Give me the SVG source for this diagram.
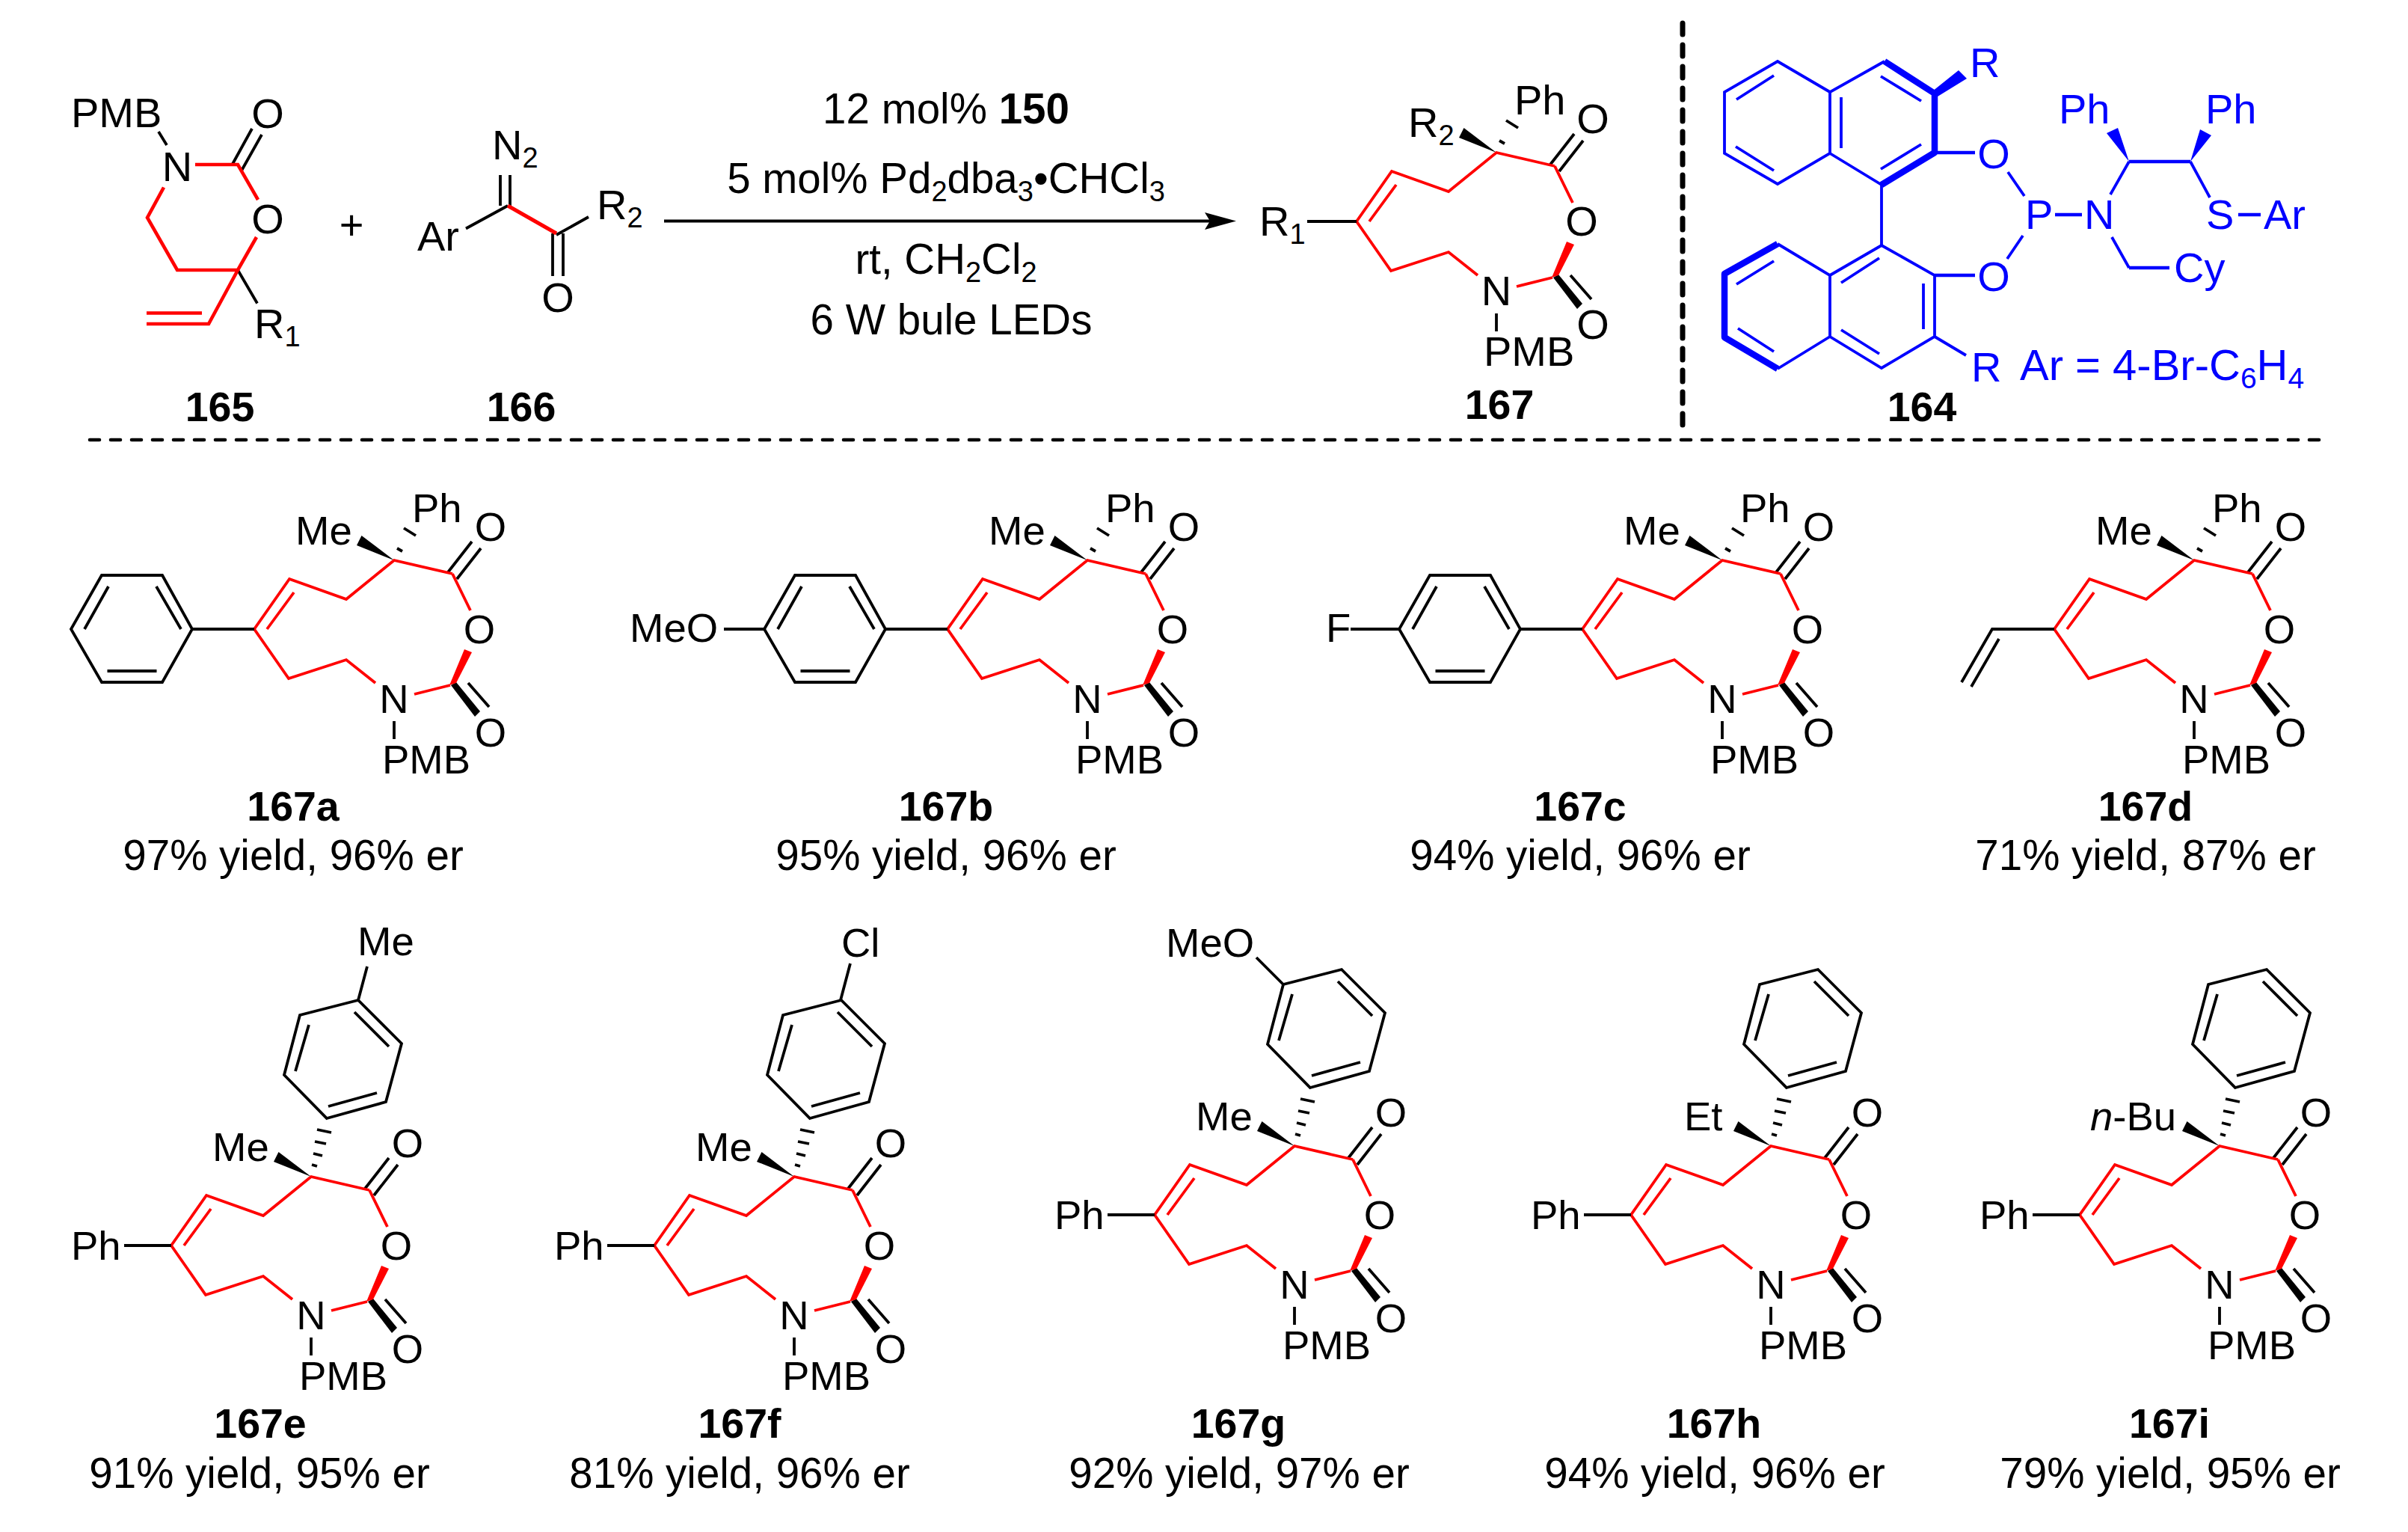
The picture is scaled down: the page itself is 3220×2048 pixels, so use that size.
<svg xmlns="http://www.w3.org/2000/svg" width="3220" height="2048" viewBox="0 0 3220 2048">
<style>
text{font-family:"Liberation Sans",Arial,sans-serif;font-size:54.5px;fill:#000}
.m{text-anchor:middle}
.c{font-size:56.5px}
.lab{font-weight:bold;font-size:55.5px;text-anchor:middle}
.y{font-size:56.5px;text-anchor:middle}
.sub{font-size:38px}
.t{font-size:56px}
.b text{fill:#0000ff;font-size:56px}
.b .sub{font-size:39px}
.k{fill:none;stroke:#000;stroke-width:3.8;stroke-linejoin:miter}
.r{fill:none;stroke:#ff0000;stroke-width:3.8;stroke-linejoin:miter}
.u{fill:none;stroke:#0000ff;stroke-width:3.8;stroke-linejoin:miter}
.ut{fill:none;stroke:#0000ff;stroke-width:8.500;stroke-linejoin:round}
.um{fill:none;stroke:#0000ff;stroke-width:4.600}
.fk{fill:#000}.fr{fill:#ff0000}.fu{fill:#0000ff}
</style>
<defs>
<g id="core">
<path class="k" d="M104-25L72 16M116-16L84 25M99 164L127 196M0 215V239"/>
<path class="fk" d="M0 0L-43.500-33L-50-20Z"/>
<path class="fk" d="M76 167L83 163L115 202L108 209Z"/>
<path class="fr" d="M74 167L83 164L104 123L94 119Z"/>
<path class="r" d="M78 18L0 0L-64 52L-140 25L-187 92L-141 158L-64 133L-25 164M-170 92L-134 43M78 18L102 67M27 179L75 167"/>
</g>
<g id="hash2"><path class="k" d="M13-43L29-33M4-16L11-12"/></g>
<g id="flatPh"><path class="k" d="M-270 92L-187 92M-391 20H-310L-270 92L-310 163H-391L-432 92ZM-382 35L-414 92M-318 35L-285 92M-383.500 148H-317.500"/></g>
<g id="aryl">
<path class="k" d="M21-78L100-100L121-178L63-236L-15-216L-36-136ZM-3-203L-21-141M58-220L104-174M23-94L88-112"/>
<path class="k" d="M8-63L27-59M5-47L20-44M3-31L15-28M1-16L8-14"/>
</g>
</defs>
<g id="connectors">
<path d="M888 295.500H1620" fill="none" stroke="#000" stroke-width="4"/>
<path class="fk" d="M1653 295.500L1611 284L1618 295.500L1611 307Z"/>
<path d="M2250 31V568" fill="none" stroke="#000" stroke-width="7" stroke-linecap="round" stroke-dasharray="15 14"/>
<path d="M120 588H3105" fill="none" stroke="#000" stroke-width="4.600" stroke-linecap="round" stroke-dasharray="13 15"/>
</g>
<g id="conditions">
<text class="c m" x="1265" y="165">12 mol% <tspan font-weight="bold">150</tspan></text>
<text class="c m" x="1265" y="258">5 mol% Pd<tspan class="sub" dy="11">2</tspan><tspan dy="-11">dba</tspan><tspan class="sub" dy="11">3</tspan><tspan dy="-11">•CHCl</tspan><tspan class="sub" dy="11">3</tspan></text>
<text class="c m" x="1265" y="366">rt, CH<tspan class="sub" dy="11">2</tspan><tspan dy="-11">Cl</tspan><tspan class="sub" dy="11">2</tspan></text>
<text class="c m" x="1272" y="447">6 W bule LEDs</text>
</g>
<g id="compound-165">
<path class="k" d="M212 176L223 194M310 221L337 172M323 228L350 180M318 361L344 405.500"/>
<path class="r" d="M261 220H318L345 267M219 250.500L197 291L237 361H318L343 317M318 361L279 433H196M270 418.500H196" style="stroke-width:4.600"/>
<text class="t" x="95" y="170">PMB</text><text class="t m" x="237" y="242">N</text><text class="t m" x="358" y="171">O</text><text class="t m" x="358" y="312">O</text>
<text class="t" x="340" y="452">R<tspan class="sub" dy="11">1</tspan></text>
<text class="lab" x="294" y="563">165</text>
</g>
<text id="plus" class="t m" x="470" y="320">+</text>
<g id="compound-166">
<path class="k" d="M669 234V275M682 234V275M623 305.500L679 275M744 314L787 290M739 312V369M753 312V369"/>
<path class="r" d="M679 275L744 312" style="stroke-width:5"/>
<text class="t" x="558" y="335">Ar</text><text class="t" x="658" y="213">N<tspan class="sub" dy="11">2</tspan></text>
<text class="t" x="798" y="293">R<tspan class="sub" dy="11">2</tspan></text><text class="t m" x="746" y="417">O</text>
<text class="lab" x="697" y="563">166</text>
</g>
<g id="compound-167" transform="translate(2001,204)">
<use href="#core"/><use href="#hash2"/>
<path class="k" d="M-187 92H-253"/>
<text class="t" x="-317" y="111">R<tspan class="sub" dy="11">1</tspan></text>
<text class="t" x="-118" y="-21">R<tspan class="sub" dy="11">2</tspan></text>
<text class="t" x="24" y="-51">Ph</text>
<text class="t m" x="129" y="-26">O</text><text class="t m" x="114" y="111">O</text><text class="t m" x="129" y="249">O</text><text class="t m" x="0" y="204">N</text><text class="t" x="-17" y="285">PMB</text>
<text class="lab" x="4" y="356">167</text>
</g>
<g id="compound-164" class="b">
<path class="u" d="M2447 123L2377 82L2306 123V205L2377 246L2447 205V123L2520 82M2447 205L2516 247V328M2322 133L2372 101M2321 196L2372 228M2462 130V198M2515 226L2569 193M2515 102L2569 135"/>
<path class="ut" d="M2520 82L2587 125V204L2516 247"/>
<path class="fu" d="M2584 122L2619 94L2630 105L2591 129Z"/>
<path class="u" d="M2447 368L2516 328L2587 368V450L2516 492L2447 450V368L2377 326M2447 450L2377 493M2324 439L2372 470M2322 380L2372 349M2462 378L2513 345M2462 441L2513 473M2572 379V440M2587 450L2629 475"/>
<path class="ut" d="M2377 326L2306 366V451L2377 493"/>
<path class="um" d="M2587 204H2641M2587 368H2641M2748 287H2784M2847 216H2929M2993 287H3023M2847 358H2901"/>
<path class="u" d="M2685 230L2707 262M2705 315L2684 346M2822 260L2847 216M2929 216L2955 264M2824 317L2847 358"/>
<path class="fu" d="M2847 216L2817 178L2832 171ZM2929 216L2942 173L2957 181Z"/>
<text x="2634" y="103">R</text><text class="m" x="2666" y="225">O</text><text class="m" x="2666" y="389">O</text>
<text x="2708" y="306">P</text><text x="2787" y="306">N</text><text x="2950" y="306">S</text><text x="3027" y="306">Ar</text>
<text x="2753" y="165">Ph</text><text x="2949" y="165">Ph</text><text x="2907" y="377">Cy</text>
<text x="2636" y="510">R</text>
<text x="2701" y="508" style="font-size:58px">Ar = 4-Br-C<tspan class="sub" dy="11">6</tspan><tspan dy="-11">H</tspan><tspan class="sub" dy="11">4</tspan></text>
<text class="lab" style="fill:#000;font-size:55.500px" x="2570" y="563">164</text>
</g>

<g id="compound-167a" transform="translate(527,749)">
<use href="#core"/><use href="#hash2"/><use href="#flatPh"/>
<text x="-132" y="-21">Me</text><text x="24" y="-51">Ph</text>
<text class="m" x="129" y="-26">O</text><text class="m" x="114" y="111">O</text><text class="m" x="129" y="249">O</text><text class="m" x="0" y="204">N</text><text x="-16" y="285">PMB</text>
<text class="lab" x="-135" y="348">167a</text><text class="y" x="-135" y="414">97% yield, 96% er</text>
</g>
<g id="compound-167b" transform="translate(1454,749)">
<use href="#core"/><use href="#hash2"/><use href="#flatPh"/>
<path class="k" d="M-432 92H-486"/>
<text x="-612" y="109">MeO</text>
<text x="-132" y="-21">Me</text><text x="24" y="-51">Ph</text>
<text class="m" x="129" y="-26">O</text><text class="m" x="114" y="111">O</text><text class="m" x="129" y="249">O</text><text class="m" x="0" y="204">N</text><text x="-16" y="285">PMB</text>
<text class="lab" x="-189" y="348">167b</text><text class="y" x="-189" y="414">95% yield, 96% er</text>
</g>
<g id="compound-167c" transform="translate(2303,749)">
<use href="#core"/><use href="#hash2"/><use href="#flatPh"/>
<path class="k" d="M-432 92H-497"/>
<text x="-530" y="109">F</text>
<text x="-132" y="-21">Me</text><text x="24" y="-51">Ph</text>
<text class="m" x="129" y="-26">O</text><text class="m" x="114" y="111">O</text><text class="m" x="129" y="249">O</text><text class="m" x="0" y="204">N</text><text x="-16" y="285">PMB</text>
<text class="lab" x="-190" y="348">167c</text><text class="y" x="-190" y="414">94% yield, 96% er</text>
</g>
<g id="compound-167d" transform="translate(2934,749)">
<use href="#core"/><use href="#hash2"/>
<path class="k" d="M-187 92H-270L-311 163M-261 105L-298 169"/>
<text x="-132" y="-21">Me</text><text x="24" y="-51">Ph</text>
<text class="m" x="129" y="-26">O</text><text class="m" x="114" y="111">O</text><text class="m" x="129" y="249">O</text><text class="m" x="0" y="204">N</text><text x="-16" y="285">PMB</text>
<text class="lab" x="-65" y="348">167d</text><text class="y" x="-65" y="414">71% yield, 87% er</text>
</g>
<g id="compound-167e" transform="translate(416,1573)">
<use href="#core"/><use href="#aryl"/>
<path class="k" d="M63-236L75-281M-187 92H-250"/>
<text x="62" y="-296">Me</text><text x="-321" y="111">Ph</text><text x="-132" y="-21">Me</text>
<text class="m" x="129" y="-26">O</text><text class="m" x="114" y="111">O</text><text class="m" x="129" y="249">O</text><text class="m" x="0" y="204">N</text><text x="-16" y="285">PMB</text>
<text class="lab" x="-68" y="349">167e</text><text class="y" x="-69" y="416">91% yield, 95% er</text>
</g>
<g id="compound-167f" transform="translate(1062,1573)">
<use href="#core"/><use href="#aryl"/>
<path class="k" d="M62-236L75-285M-187 92H-250"/>
<text x="63" y="-294">Cl</text><text x="-321" y="111">Ph</text><text x="-132" y="-21">Me</text>
<text class="m" x="129" y="-26">O</text><text class="m" x="114" y="111">O</text><text class="m" x="129" y="249">O</text><text class="m" x="0" y="204">N</text><text x="-16" y="285">PMB</text>
<text class="lab" x="-73" y="349">167f</text><text class="y" x="-73" y="416">81% yield, 96% er</text>
</g>
<g id="compound-167g" transform="translate(1731,1532)">
<use href="#core"/><use href="#aryl"/>
<path class="k" d="M-15-216L-51-252M-187 92H-250"/>
<text x="-172" y="-253">MeO</text><text x="-321" y="111">Ph</text><text x="-132" y="-21">Me</text>
<text class="m" x="129" y="-26">O</text><text class="m" x="114" y="111">O</text><text class="m" x="129" y="249">O</text><text class="m" x="0" y="204">N</text><text x="-16" y="285">PMB</text>
<text class="lab" x="-75" y="390">167g</text><text class="y" x="-74" y="457">92% yield, 97% er</text>
</g>
<g id="compound-167h" transform="translate(2368,1532)">
<use href="#core"/><use href="#aryl"/>
<path class="k" d="M-187 92H-250"/>
<text x="-321" y="111">Ph</text><text x="-116" y="-21">Et</text>
<text class="m" x="129" y="-26">O</text><text class="m" x="114" y="111">O</text><text class="m" x="129" y="249">O</text><text class="m" x="0" y="204">N</text><text x="-16" y="285">PMB</text>
<text class="lab" x="-76" y="390">167h</text><text class="y" x="-75" y="457">94% yield, 96% er</text>
</g>
<g id="compound-167i" transform="translate(2968,1532)">
<use href="#core"/><use href="#aryl"/>
<path class="k" d="M-187 92H-250"/>
<text x="-321" y="111">Ph</text><text x="-173" y="-21"><tspan font-style="italic">n</tspan>-Bu</text>
<text class="m" x="129" y="-26">O</text><text class="m" x="114" y="111">O</text><text class="m" x="129" y="249">O</text><text class="m" x="0" y="204">N</text><text x="-16" y="285">PMB</text>
<text class="lab" x="-67" y="390">167i</text><text class="y" x="-66" y="457">79% yield, 95% er</text>
</g>
</svg>
